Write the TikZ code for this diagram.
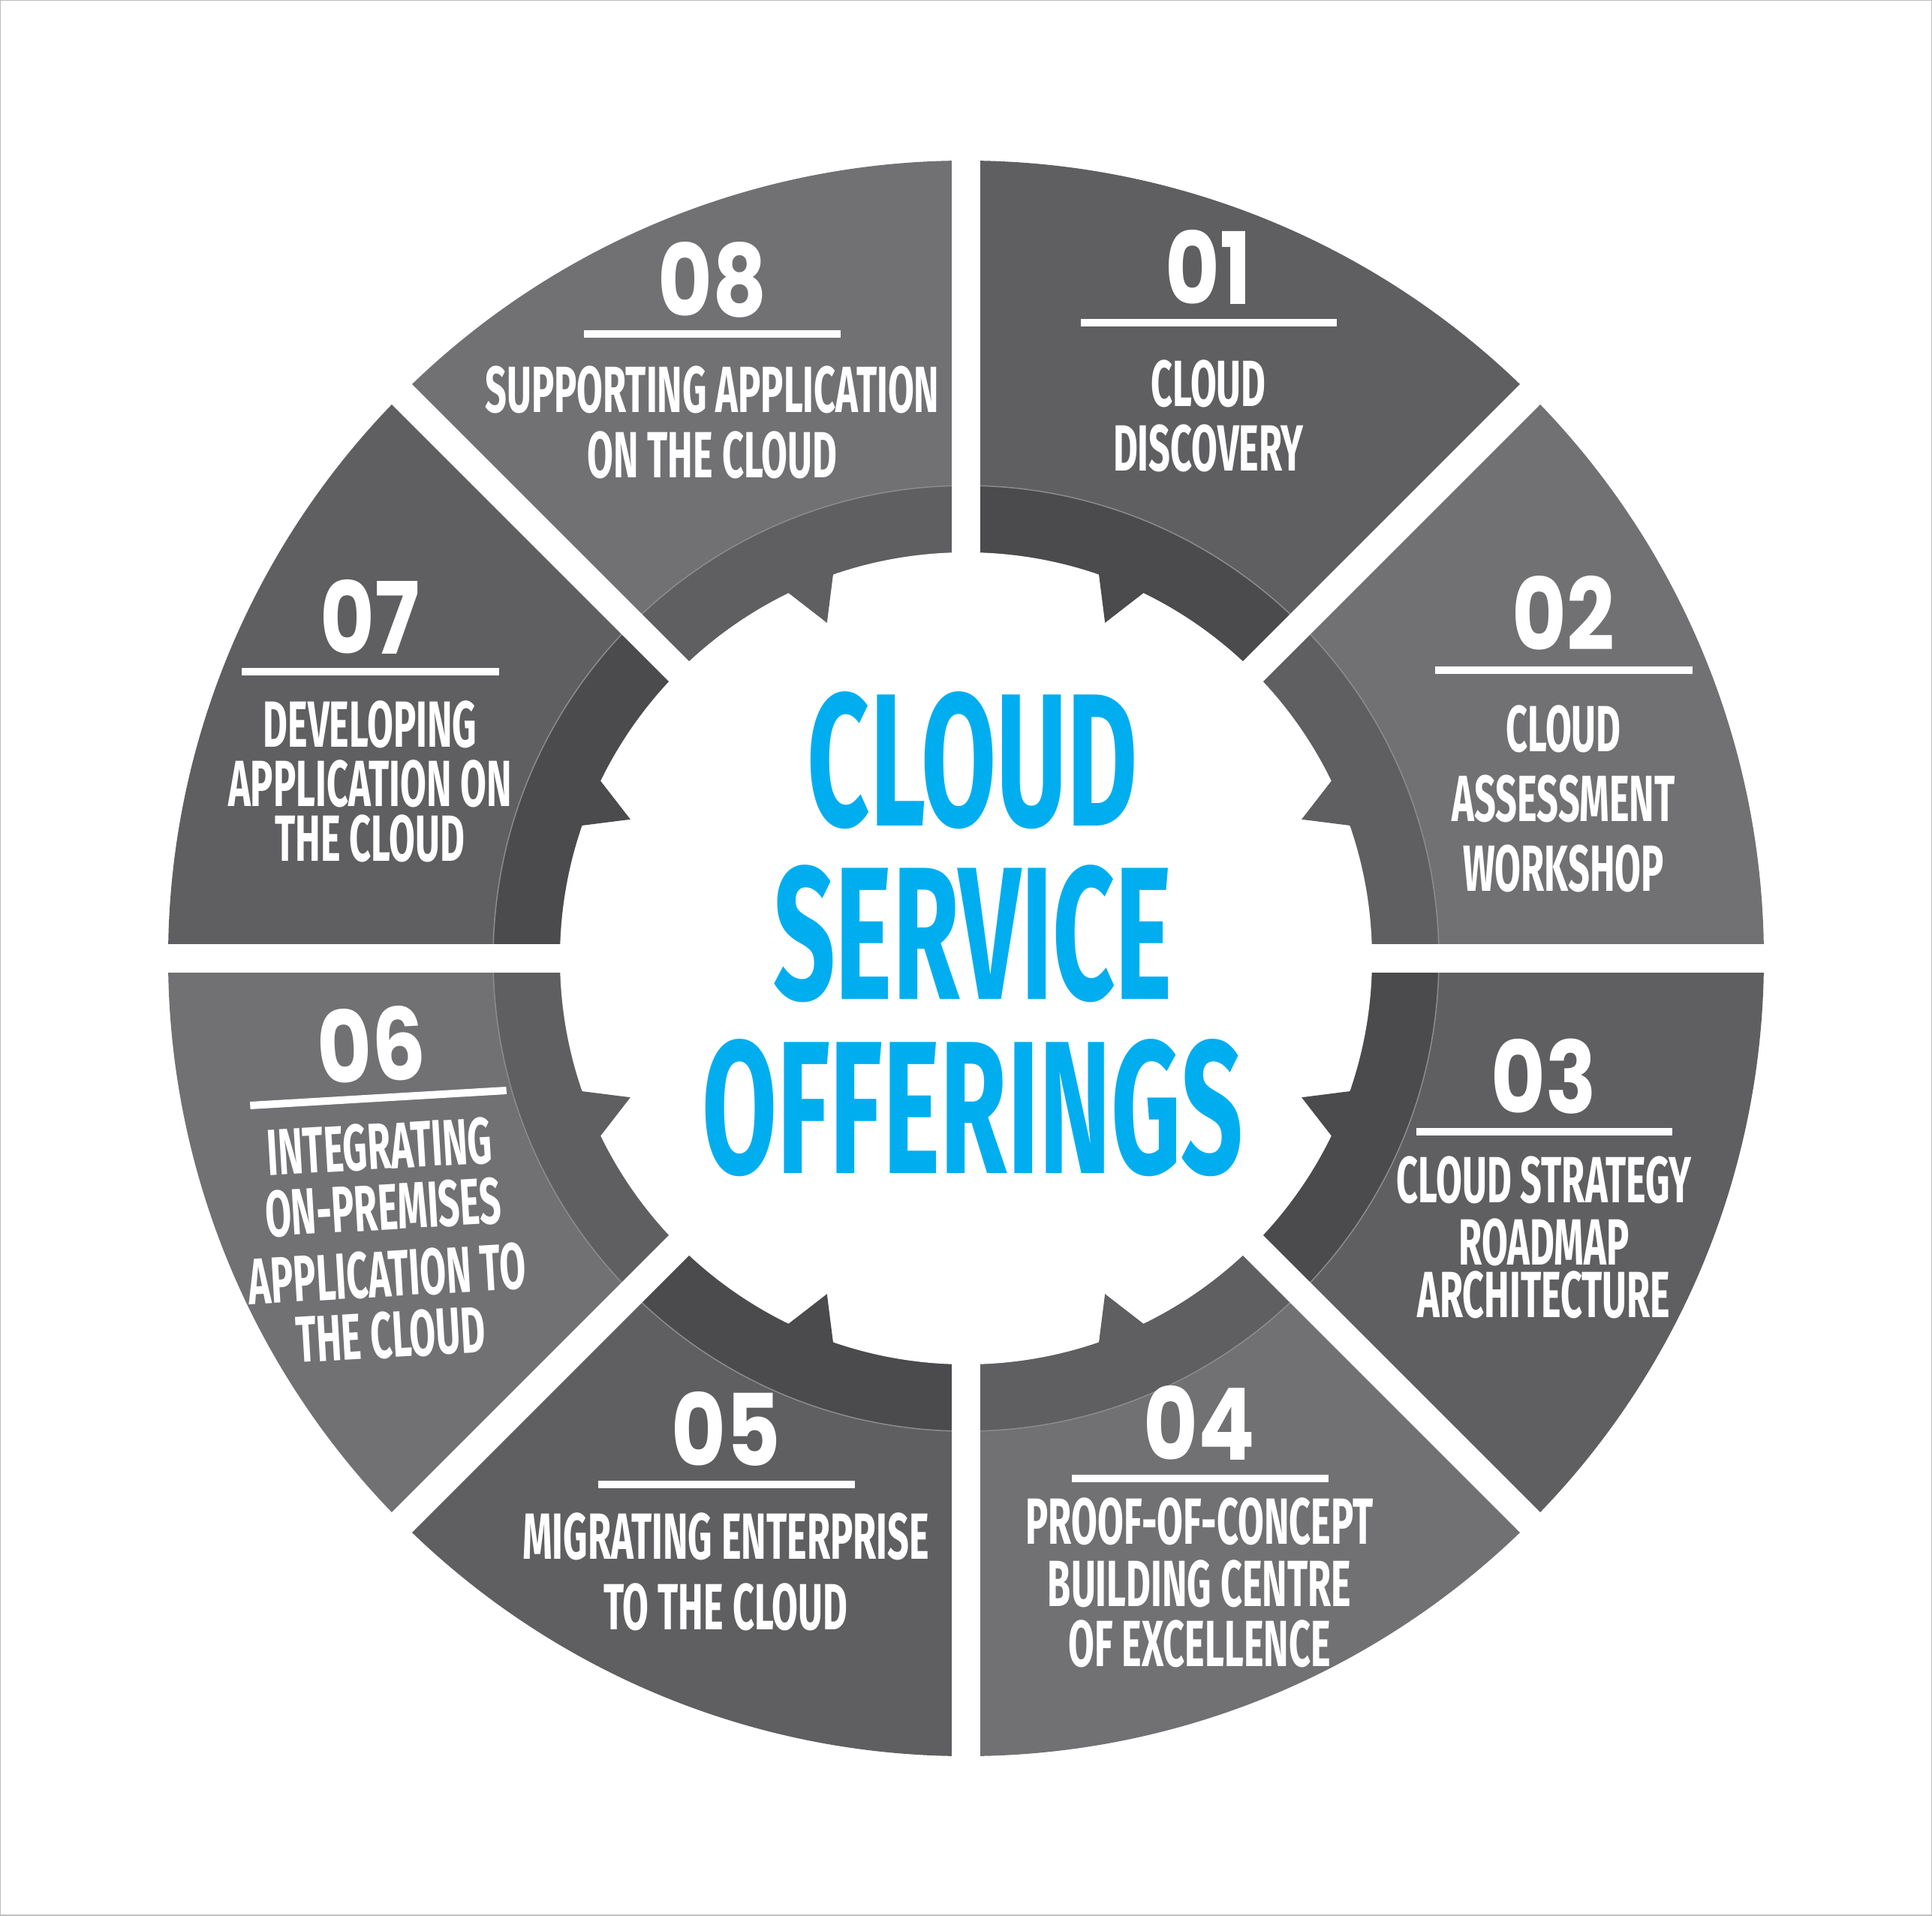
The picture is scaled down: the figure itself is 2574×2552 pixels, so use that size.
\documentclass[tikz,border=0pt]{standalone}
\usepackage{fontspec}
\newfontfamily\lblfont{Fira Sans}[FakeStretch=0.58]
\newfontfamily\ttlfont{Fira Sans}[FakeStretch=0.575]
\newfontfamily\numfont{Poppins}[FakeStretch=0.84]
\definecolor{secA}{HTML}{5F5F61}
\definecolor{secB}{HTML}{717174}
\definecolor{ringA}{HTML}{4B4B4D}
\definecolor{ringB}{HTML}{5F5F61}
\definecolor{cyanT}{HTML}{00AEEF}
\definecolor{edgeL}{HTML}{8C8C8E}
\definecolor{frameC}{HTML}{BDBDBD}
\begin{document}
\begin{tikzpicture}[x=1pt,y=1pt,
  lbl/.style={text=white, inner sep=0pt, anchor=base, font=\lblfont\bfseries\fontsize{87}{87}\selectfont},
  num/.style={text=white, inner sep=0pt, anchor=base, font=\numfont\bfseries\fontsize{133}{133}\selectfont},
  ttl/.style={text=cyanT, inner sep=0pt, anchor=base, font=\ttlfont\bfseries\fontsize{252}{252}\selectfont},
  uline/.style={fill=white}]
\useasboundingbox (-1287,-1275) rectangle (1287,1277);
\fill[white] (-1287,-1275) rectangle (1287,1277);
\def\Ro{1063}\def\Rm{630}\def\Ri{541}\def\Rt{484}
% outer sectors and inner ring pieces
\foreach \a/\s/\r in {0/secB/ringB,45/secA/ringA,90/secB/ringB,135/secA/ringA,180/secB/ringB,225/secA/ringA,270/secB/ringB,315/secA/ringA}{
  \fill[\s] (0,0) -- (\a:\Ro) arc[start angle=\a, end angle=\a+45, radius=\Ro] -- cycle;
  \fill[\r] (0,0) -- (\a:\Rm) arc[start angle=\a, end angle=\a+45, radius=\Rm] -- cycle;
}
\draw[edgeL, line width=1.5] (0,0) circle[radius=\Rm];
\fill[white] (0,0) circle[radius=\Ri];
% teeth
\foreach \a/\r in {22.5/ringB,67.5/ringA,112.5/ringB,157.5/ringA,202.5/ringB,247.5/ringA,292.5/ringB,337.5/ringA}{
  \fill[\r] ({\a-3.6}:{\Ri+4}) -- (\a:\Rt) -- ({\a+3.6}:{\Ri+4}) -- cycle;
}
% gaps
\foreach \a in {0,45,90,135}{
  \fill[white, rotate=\a] (-1120,-19) rectangle (1120,19);
}
% frame
\draw[frameC, line width=3] (-1287,-1275) rectangle (1287,1277);
% title
\node[ttl] (t1) at (9,177) {CLOUD};
\node[ttl] (t2) at (9,-54) {SERVICE};
\node[ttl] (t3) at (9,-286) {OFFERINGS};
% 01
\node[num] (n1) at (323,871) {01};
\fill[uline] (153,842) rectangle (494,852);
\node[lbl] (s1a) at (323,735) {CLOUD};
\node[lbl] (s1b) at (323,649) {DISCOVERY};
% 02
\node[num] (n2) at (796,410) {02};
\fill[uline] (625,379) rectangle (968,389);
\node[lbl] (s2a) at (796,276) {CLOUD};
\node[lbl] (s2b) at (796,183) {ASSESSMENT};
\node[lbl] (s2c) at (796,90) {WORKSHOP};
% 03
\node[num] (n3) at (770,-206) {03};
\fill[uline] (600,-236) rectangle (941,-226);
\node[lbl] (s3a) at (770,-325) {CLOUD STRATEGY};
\node[lbl] (s3b) at (770,-408) {ROADMAP};
\node[lbl] (s3c) at (770,-478) {ARCHITECTURE};
% 04
\node[num] (n4) at (311,-668) {04};
\fill[uline] (141,-698) rectangle (483,-688);
\node[lbl] (s4a) at (311,-780) {PROOF-OF-CONCEPT};
\node[lbl] (s4b) at (311,-863) {BUILDING CENTRE};
\node[lbl] (s4c) at (311,-943) {OF EXCELLENCE};
% 05
\node[num] (n5) at (-320,-676) {05};
\fill[uline] (-490,-706) rectangle (-148,-696);
\node[lbl] (s5a) at (-320,-800) {MIGRATING ENTERPRISE};
\node[lbl] (s5b) at (-320,-894) {TO THE CLOUD};
% 06 (tilted)
\begin{scope}[shift={(-783,-186)}, rotate=3.35, transform shape]
  \fill[uline] (-171,-5) rectangle (171,5);
  \node[num] (n6) at (-5,22) {06};
  \node[lbl] (s6a) at (-2,-95) {INTEGRATING};
  \node[lbl] (s6b) at (-2,-176) {ON-PREMISES};
  \node[lbl] (s6c) at (-2,-265) {APPLICATION TO};
  \node[lbl] (s6d) at (-2,-346) {THE CLOUD};
\end{scope}
% 07
\node[num] (n7) at (-794,405) {07};
\fill[uline] (-965,377) rectangle (-622,387);
\node[lbl] (s7a) at (-794,282) {DEVELOPING};
\node[lbl] (s7b) at (-794,203) {APPLICATION ON};
\node[lbl] (s7c) at (-794,130) {THE CLOUD};
% 08
\node[num] (n8) at (-338,855) {08};
\fill[uline] (-509,827) rectangle (-167,837);
\node[lbl] (s8a) at (-338,727) {SUPPORTING APPLICATION};
\node[lbl] (s8b) at (-338,640) {ON THE CLOUD};
\end{tikzpicture}
\end{document}
